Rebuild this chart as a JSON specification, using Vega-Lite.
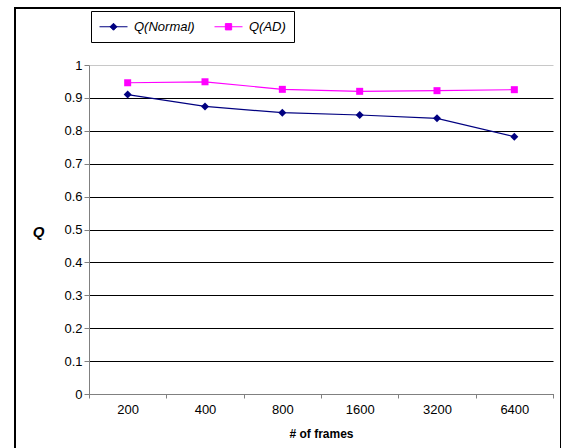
{
  "$schema": "https://vega.github.io/schema/vega-lite/v6.json",
  "width": 546,
  "height": 460,
  "autosize": {"type": "none"},
  "padding": {"left": 15, "top": 8, "right": 0, "bottom": 0},
  "background": "white",
  "config": {
    "view": {"stroke": "#000", "strokeWidth": 2},
    "font": "Liberation Sans"
  },
  "data": {
    "values": [
      {"frames": 200, "series": "Q(Normal)", "q": 0.910},
      {"frames": 400, "series": "Q(Normal)", "q": 0.874},
      {"frames": 800, "series": "Q(Normal)", "q": 0.855},
      {"frames": 1600, "series": "Q(Normal)", "q": 0.848},
      {"frames": 3200, "series": "Q(Normal)", "q": 0.838},
      {"frames": 6400, "series": "Q(Normal)", "q": 0.782},
      {"frames": 200, "series": "Q(AD)", "q": 0.946},
      {"frames": 400, "series": "Q(AD)", "q": 0.949},
      {"frames": 800, "series": "Q(AD)", "q": 0.926},
      {"frames": 1600, "series": "Q(AD)", "q": 0.920},
      {"frames": 3200, "series": "Q(AD)", "q": 0.922},
      {"frames": 6400, "series": "Q(AD)", "q": 0.925}
    ]
  },
  "encoding": {
    "x": {
      "field": "frames",
      "type": "ordinal",
      "sort": "ascending",
      "scale": {"type": "band", "range": [74, 538], "paddingInner": 0, "paddingOuter": 0},
      "axis": {
        "orient": "bottom",
        "offset": -74,
        "title": "# of frames",
        "labelAngle": 0,
        "tickBand": "extent",
        "grid": false,
        "domainColor": "#808080",
        "tickColor": "#808080",
        "tickSize": 4,
        "labelFontSize": 13,
        "labelColor": "#000",
        "labelPadding": 5,
        "titleFontSize": 12,
        "titleFontWeight": "bold",
        "titleColor": "#000",
        "titleY": 39,
        "titleBaseline": "middle"
      }
    },
    "y": {
      "field": "q",
      "type": "quantitative",
      "scale": {"domain": [0, 1], "range": [386, 57], "nice": false, "zero": false},
      "axis": {
        "offset": -74,
        "values": [0, 0.1, 0.2, 0.3, 0.4, 0.5, 0.6, 0.7, 0.8, 0.9, 1],
        "format": ".1~f",
        "grid": true,
        "gridColor": {"condition": {"test": "datum.value >= 0.999", "value": "#c8c8c8"}, "value": "#000"},
        "gridOpacity": 1,
        "domainColor": "#808080",
        "tickColor": "#808080",
        "tickSize": 5,
        "labelFontSize": 13,
        "labelColor": "#000",
        "labelPadding": 2,
        "title": "Q",
        "titleAngle": 0,
        "titleFontStyle": "italic",
        "titleFontWeight": "bold",
        "titleFontSize": 15,
        "titleColor": "#000",
        "titleX": -51,
        "titleY": 223,
        "titleAlign": "center",
        "titleBaseline": "middle"
      }
    }
  },
  "layer": [
    {
      "mark": {"type": "line", "strokeWidth": 1.2},
      "encoding": {
        "color": {
          "field": "series",
          "type": "nominal",
          "scale": {"domain": ["Q(Normal)", "Q(AD)"], "range": ["#000080", "#ff00ff"]},
          "legend": {
            "orient": "none",
            "legendX": 76,
            "legendY": 3,
            "direction": "horizontal",
            "title": null,
            "strokeColor": "#000",
            "fillColor": "#fff",
            "padding": 8,
            "columnPadding": 17,
            "labelOffset": 20,
            "labelFontSize": 13,
            "labelFontStyle": "italic",
            "labelColor": "#000",
            "symbolSize": 196,
            "symbolStrokeWidth": 1,
            "symbolType": "M-1,0H3",
            "encode": {
              "symbols": {
                "update": {
                  "shape": {"signal": "datum.value === 'Q(Normal)' ? 'M-1,0H3M0.5,0L1,-0.5L1.5,0L1,0.5Z' : 'M-1,0H3M0.55,-0.45H1.45V0.45H0.55Z'"},
                  "fill": {"signal": "datum.value === 'Q(Normal)' ? '#000080' : '#ff00ff'"},
                  "stroke": {"signal": "datum.value === 'Q(Normal)' ? '#000080' : '#ff00ff'"},
                  "strokeWidth": {"value": 1},
                  "opacity": {"value": 1}
                }
              }
            }
          }
        }
      }
    },
    {
      "transform": [{"filter": "datum.series === 'Q(Normal)'"}],
      "mark": {"type": "point", "shape": "diamond", "filled": true, "opacity": 1, "size": 64, "color": "#000080"}
    },
    {
      "transform": [{"filter": "datum.series === 'Q(AD)'"}],
      "mark": {"type": "point", "shape": "square", "filled": true, "opacity": 1, "size": 49, "color": "#ff00ff"}
    }
  ]
}
